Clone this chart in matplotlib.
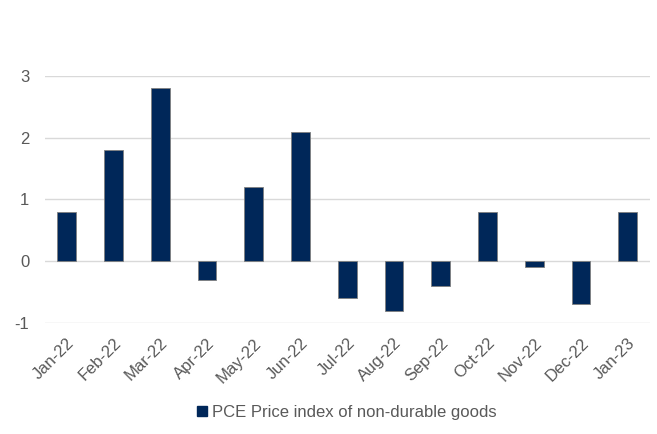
import matplotlib
matplotlib.use("Agg")
import matplotlib.pyplot as plt
from matplotlib.patches import Patch

months = ["Jan-22", "Feb-22", "Mar-22", "Apr-22", "May-22", "Jun-22", "Jul-22",
          "Aug-22", "Sep-22", "Oct-22", "Nov-22", "Dec-22", "Jan-23"]
values = [0.8, 1.8, 2.8, -0.3, 1.2, 2.1, -0.6, -0.8, -0.4, 0.8, -0.1, -0.7, 0.8]
yticks = [-1, 0, 1, 2, 3]
series_name = "PCE Price index of non-durable goods"

plt.rcParams['font.family'] = ['Liberation Sans', 'DejaVu Sans']
fig = plt.figure(figsize=(6.57, 4.34), dpi=100)
ax = fig.add_axes([0.068, 0.256, 0.921, 0.569])
bar_color = "#002759"
x = list(range(len(months)))
ax.bar(x, values, width=0.4, color=bar_color, edgecolor="#7f7f7f", linewidth=0.6, zorder=3)
ax.set_ylim(-1, 3)
ax.set_xlim(-0.47, len(months) - 0.53)
ax.set_yticks(yticks)
ax.set_yticklabels([str(v) for v in yticks])
ax.grid(axis="y", color="#d9d9d9", linewidth=1.0, zorder=0)
ax.set_xticks(x)
ax.set_xticklabels(months, rotation=45, ha="right", rotation_mode="anchor")
for s in ax.spines.values():
    s.set_visible(False)
ax.tick_params(axis="both", length=0, colors="#595959", labelsize=12)
ax.tick_params(axis="x", pad=9)
ax.tick_params(axis="y", pad=11)
handle = Patch(facecolor=bar_color, edgecolor=bar_color)
fig.legend([handle], [series_name], loc="center", bbox_to_anchor=(0.528, 0.05),
           frameon=False, fontsize=12, handlelength=0.6, handleheight=0.6,
           handletextpad=0.3, labelcolor="#595959")
fig.savefig("out.png", dpi=100)
